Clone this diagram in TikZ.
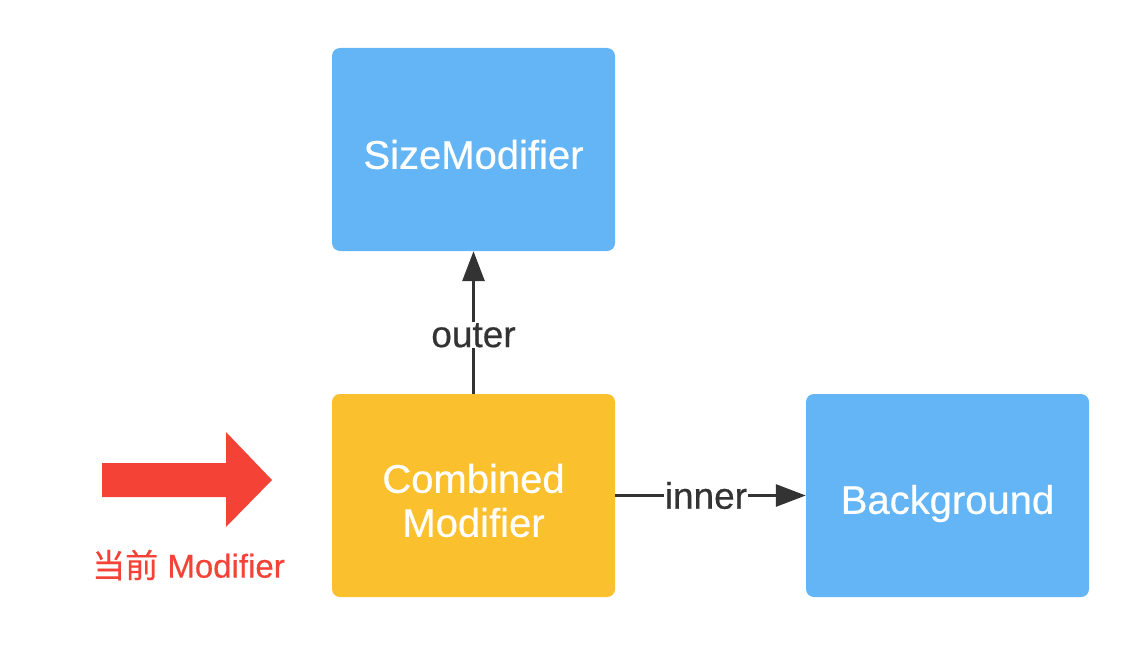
\documentclass[tikz,border=0pt]{standalone}
\usepackage{fontspec}
\setmainfont{Liberation Sans}
\newfontfamily\medfont{Liberation Sans}[FakeBold=0.5]
\newfontfamily\cjkfont{Noto Sans CJK SC}[FakeBold=0.5]
\usetikzlibrary{arrows.meta}
\definecolor{boxblue}{HTML}{64B5F6}
\definecolor{boxyellow}{HTML}{FBC02D}
\definecolor{arrred}{HTML}{F44336}
\definecolor{darkline}{HTML}{333333}
\begin{document}
\begin{tikzpicture}[x=1pt,y=-1pt,
  box/.style={rounded corners=8pt, minimum width=283pt, minimum height=203pt, inner sep=0pt},
  boxtext/.style={text=white, font=\medfont\fontsize{40}{44}\selectfont, align=center},
  conn/.style={draw=darkline, line width=3pt, -{Triangle[length=30pt,width=22pt]}},
  lbl/.style={fill=white, text=darkline, font=\medfont\fontsize{37}{40}\selectfont, inner sep=1pt}]
\useasboundingbox (0,0) rectangle (1138,661);
\node[box, fill=boxblue] (size) at (473.5,149.5) {};
\node[box, fill=boxyellow] (comb) at (473.5,495.5) {};
\node[box, fill=boxblue] (bg) at (947.5,495.5) {};
\node[boxtext] (sizet) at ([yshift=-5pt]size.center) {SizeModifier};
\node[boxtext] (combt) at ([yshift=-5pt]comb.center) {Combined\\Modifier};
\node[boxtext] (bgt) at ([yshift=-8pt]bg.center) {Background};
\draw[conn] (comb.north) -- node[lbl, pos=0.41] (outerlbl) {outer} (size.south);
\draw[conn] (comb.east) -- node[lbl, pos=0.476] (innerlbl) {inner} (bg.west);
\fill[arrred] (102,463) -- (226,463) -- (226,432) -- (272,480) -- (226,527) -- (226,497) -- (102,497) -- cycle;
\node[text=arrred, font=\medfont\fontsize{33}{38}\selectfont] (cur) at (188.5,565) {{\cjkfont 当前} Modifier};
\end{tikzpicture}
\end{document}
